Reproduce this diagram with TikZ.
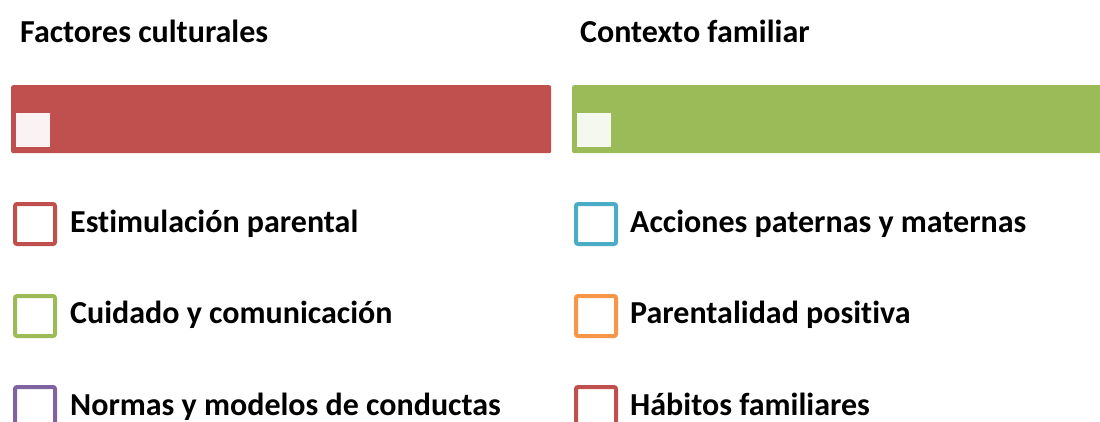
\documentclass[tikz,border=0pt]{standalone}
\usepackage{fontspec}
\setmainfont[Ligatures=NoCommon]{Carlito}
\usetikzlibrary{positioning,calc}

\definecolor{redacc}{HTML}{C0504D}
\definecolor{greenacc}{HTML}{9BBB59}
\definecolor{purpleacc}{HTML}{8064A2}
\definecolor{blueacc}{HTML}{4BACC6}
\definecolor{orangeacc}{HTML}{F79646}

\tikzset{
  headtext/.style={anchor=base west, inner sep=0pt, font=\fontsize{32}{38}\selectfont\bfseries},
  itemtext/.style={anchor=base west, inner sep=0pt, font=\fontsize{32}{38}\selectfont\bfseries},
  bar/.style={fill=#1, draw=none, rounded corners=2pt, minimum width=540pt, minimum height=68pt, inner sep=0pt, anchor=north west},
  tick/.style={fill=#1, draw=none, minimum size=34pt, inner sep=0pt, anchor=south west},
  itembox/.style={draw=#1, line width=4pt, rounded corners=2pt, fill=white, minimum size=40pt, inner sep=0pt, anchor=north west}
}

\begin{document}
\begin{tikzpicture}[x=1pt, y=-1pt]
    \useasboundingbox (0,0) rectangle (1100,421);
    \clip (0,0) rectangle (1100,421);
    % titles
    \node[headtext] (culturales) at (20,42) {Factores culturales};
    \node[headtext] (familiar) at (580,42) {Contexto familiar};
    % coloured bars
    \node[bar=redacc] (redbar) at (11,85) {};
    \node[bar=greenacc, minimum width=560pt] (greenbar) at (572,85) {};
    \node[tick=redacc!7] (redtick) at ($(redbar.south west)+(5,-6)$) {};
    \node[tick=greenacc!10] (greentick) at ($(greenbar.south west)+(5,-6)$) {};
    % left column
    \node[itembox=redacc] (boxa) at (13,202) {};
    \node[itembox=greenacc] (boxb) at (13,294) {};
    \node[itembox=purpleacc] (boxc) at (13,385) {};
    \node[itemtext] (esti) at (70,232) {Estimulación parental};
    \node[itemtext] (cuid) at (70,323) {Cuidado y comunicación};
    \node[itemtext] (norm) at (70,415) {Normas y modelos de conductas};
    % right column
    \node[itembox=blueacc] (boxd) at (574,202) {};
    \node[itembox=orangeacc] (boxe) at (574,294) {};
    \node[itembox=redacc] (boxf) at (574,385) {};
    \node[itemtext] (acci) at (630,232) {Acciones paternas y maternas};
    \node[itemtext] (pare) at (630,323) {Parentalidad positiva};
    \node[itemtext] (habi) at (630,415) {Hábitos familiares};
\end{tikzpicture}
\end{document}
